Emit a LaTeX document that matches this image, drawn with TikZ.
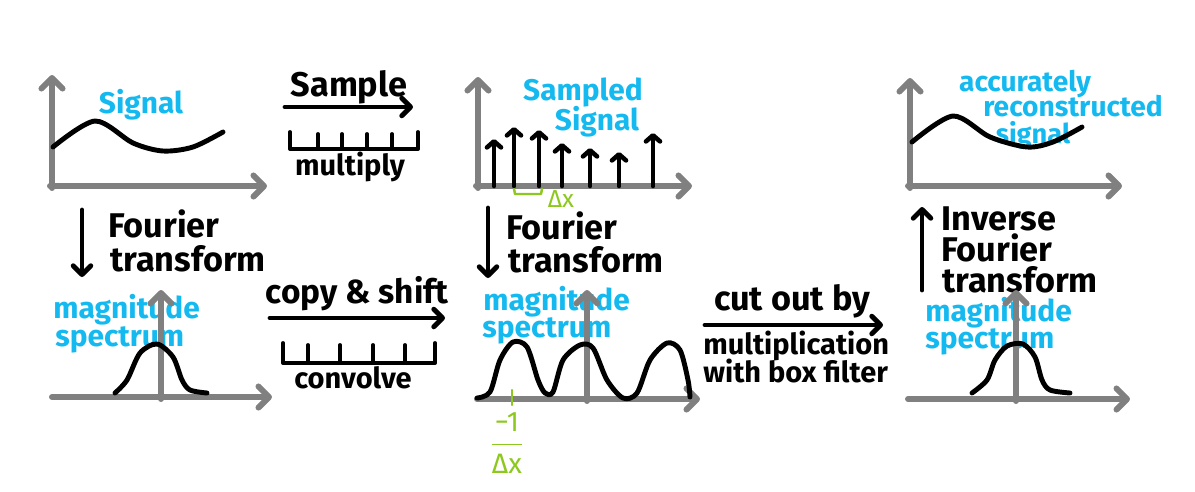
\documentclass[tikz,border=0pt]{standalone}
\usepackage{fontspec}
\setmainfont{Fira Sans}
\usepackage{xcolor}
\usetikzlibrary{arrows.meta}
\definecolor{skyblue}{RGB}{20,185,240}
\definecolor{limegreen}{RGB}{140,200,30}
\definecolor{axisgray}{RGB}{128,128,128}

\begin{document}
\begin{tikzpicture}[x=0.02cm, y=-0.02cm,
    axis/.style={draw=axisgray, line width=3.4pt, line cap=round, -{Straight Barb[length=6pt, width=12pt, round]}},
    curve/.style={line width=2.8pt, line cap=round, line join=round},
    proc/.style={line width=2.8pt, line cap=round, -{Straight Barb[length=5pt, width=10pt, round]}},
    spike/.style={line width=2.6pt, line cap=round, -{Straight Barb[length=3.5pt, width=8pt, round]}},
    comb/.style={line width=2.2pt, line cap=round, line join=round},
    lbl/.style={text=skyblue, font=\fontsize{17}{17}\selectfont\bfseries, inner sep=0pt},
    txt/.style={font=\fontsize{19.5}{19.5}\selectfont\bfseries, inner sep=0pt},
    small/.style={font=\fontsize{16.5}{16.5}\selectfont\bfseries, inner sep=0pt},
    hint/.style={draw=limegreen, line width=1.4pt, line cap=round, line join=round},
    hinttext/.style={text=limegreen, font=\fontsize{14}{14}\selectfont, inner sep=0pt}]
    \useasboundingbox (0,0) rectangle (1195,491);

    % top row: signal, sampled signal, reconstructed signal
    \node[lbl, anchor=base] (sig) at (141,113) {Signal};
    \node[lbl, anchor=base] (smp1) at (583,100) {Sampled};
    \node[lbl, anchor=base] (smp2) at (597,130) {Signal};
    \node[lbl, font=\fontsize{16}{16}\selectfont\bfseries, anchor=base] (rec1) at (1025,91) {accurately};
    \node[lbl, font=\fontsize{16}{16}\selectfont\bfseries, anchor=base] (rec2) at (1073,116) {reconstructed};
    \node[lbl, font=\fontsize{15.5}{15.5}\selectfont\bfseries, anchor=base] (rec3) at (1033,143) {signal};

    \draw[axis] (52,188) -- (52,75);
    \draw[axis] (50,186) -- (267,186);
    \draw[axis] (478,188) -- (478,77);
    \draw[axis] (476,186) -- (692,186);
    \draw[axis] (910,188) -- (910,78);
    \draw[axis] (908,186) -- (1122,186);

    \draw[curve] plot[smooth] coordinates {(53,147) (95,121) (133,143) (163,151) (193,147) (223,132)};
    \draw[curve] plot[smooth] coordinates {(912,142) (953,116) (990,137) (1027,147) (1053,142) (1082,127)};
    \foreach \x/\t in {494/139, 514/127, 539/130, 562/143, 590/148, 619/152, 653/133}
        \draw[spike] (\x,186) -- (\x,\t);

    \draw[hint] (514,189) -- (515,194) -- (541,194) -- (542,189);
    \node[hinttext] (dx) at (561,199) {Δx};

    % sample step
    \node[txt, anchor=base] (sample) at (349,96) {Sample};
    \coordinate (sampleL) at (285,107);
    \coordinate (sampleR) at (413,107);
    \draw[proc] (sampleL) -- (sampleR);
    \draw[comb] (290,132) -- (290,149) -- (418,149) -- (418,132);
    \foreach \x in {318,342,367,392}
        \draw[comb] (\x,134) -- (\x,149);
    \node[small, anchor=base] (mul) at (350,175) {multiply};

    % fourier transforms
    \coordinate (ftaT) at (82,210);
    \coordinate (ftaB) at (82,277);
    \draw[proc] (ftaT) -- (ftaB);
    \node[txt, anchor=base west] (fta1) at (108,237) {Fourier};
    \node[txt, anchor=base west] (fta2) at (110,271) {transform};

    \coordinate (ftbT) at (488,208);
    \coordinate (ftbB) at (488,278);
    \draw[proc] (ftbT) -- (ftbB);
    \node[txt, anchor=base west] (ftb1) at (506,239) {Fourier};
    \node[txt, anchor=base west] (ftb2) at (508,272) {transform};

    \coordinate (iftB) at (922,290);
    \coordinate (iftT) at (922,207);
    \draw[proc] (iftB) -- (iftT);
    \node[txt, anchor=base west] (ift1) at (941,230) {Inverse};
    \node[txt, anchor=base west] (ift2) at (941,261) {Fourier};
    \node[txt, anchor=base west] (ift3) at (942,292) {transform};

    % bottom row: spectra
    \node[lbl, anchor=base west] (mag1) at (53,318) {magnitude};
    \node[lbl, anchor=base west] (spc1) at (55,346) {spectrum};
    \node[lbl, anchor=base west] (mag2) at (483,310) {magnitude};
    \node[lbl, anchor=base west] (spc2) at (482,337) {spectrum};
    \node[lbl, anchor=base west] (mag3) at (925,321) {magnitude};
    \node[lbl, anchor=base west] (spc3) at (925,348) {spectrum};

    \draw[axis] (161,399) -- (161,290);
    \draw[axis] (52,397) -- (272,397);
    \draw[axis] (587,401) -- (587,290);
    \draw[axis] (477,399) -- (700,399);
    \draw[axis] (1016,401) -- (1016,290);
    \draw[axis] (908,399) -- (1130,399);

    \draw[curve] plot[smooth] coordinates {(115,393) (127,380) (140,353) (157,344) (173,357) (182,380) (190,390) (207,393)};
    \draw[curve] plot[smooth] coordinates {(477,398) (490,392) (500,360) (513,342) (527,347) (538,380) (545,393) (553,392) (563,360) (580,345) (593,348) (607,380) (623,398) (637,393) (650,360) (667,343) (680,350) (688,380) (690,397)};
    \draw[curve] plot[smooth] coordinates {(972,393) (987,380) (995,360) (1007,346) (1023,344) (1035,357) (1042,380) (1050,390) (1070,393)};

    \draw[hint] (512,390) -- (512,405);
    \node[hinttext, font=\fontsize{16}{16}\selectfont] (freq) at (507,443) {$\displaystyle\frac{\mbox{−1}}{\mbox{Δx}}$};

    % copy and shift step
    \node[txt, font=\fontsize{19}{19}\selectfont\bfseries, anchor=base] (copy) at (357,303) {copy \& shift};
    \coordinate (copyL) at (270,318);
    \coordinate (copyR) at (445,318);
    \draw[proc] (copyL) -- (copyR);
    \draw[comb] (283,343) -- (283,363) -- (435,363) -- (435,343);
    \foreach \x in {308,340,373,405}
        \draw[comb] (\x,345) -- (\x,363);
    \node[small, anchor=base] (conv) at (353,388) {convolve};

    % cut out step
    \node[txt, anchor=base] (cut) at (792,310) {cut out by};
    \coordinate (cutL) at (705,325);
    \coordinate (cutR) at (883,325);
    \draw[proc] (cutL) -- (cutR);
    \node[small, anchor=base west] (mult) at (703,354) {multiplication};
    \node[small, anchor=base west] (box) at (703,382) {with box filter};
\end{tikzpicture}
\end{document}
